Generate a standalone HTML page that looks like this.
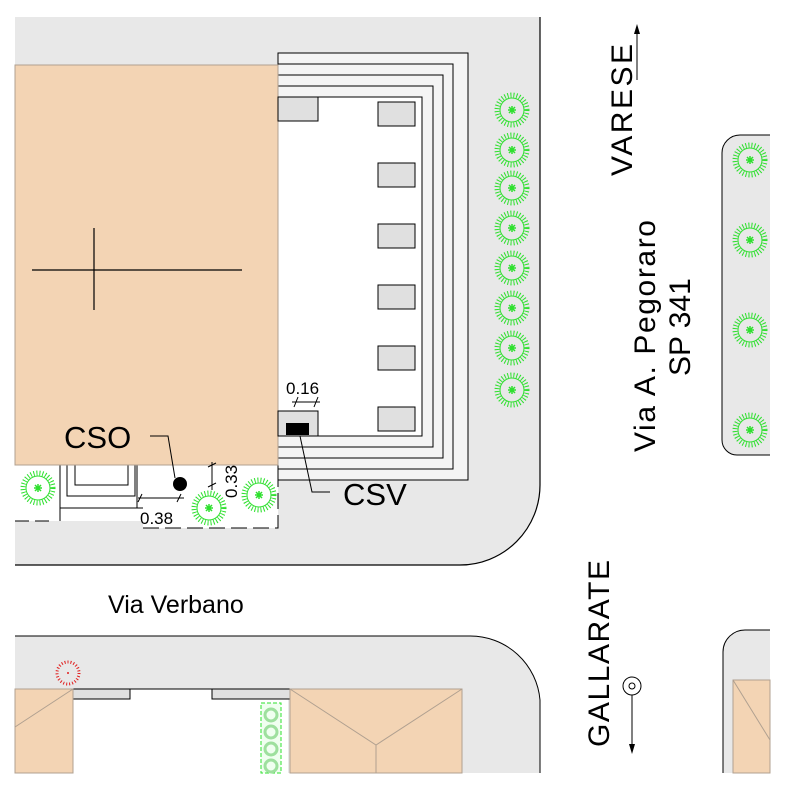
<!DOCTYPE html>
<html><head><meta charset="utf-8"><style>html,body{margin:0;padding:0;background:#fff}svg{display:block}</style></head><body>
<svg width="788" height="788" viewBox="0 0 788 788" xmlns="http://www.w3.org/2000/svg" font-family="Liberation Sans, sans-serif">
<defs>
<g id="tree">
<circle r="15" fill="none" stroke="#2ee02e" stroke-width="5" stroke-dasharray="1 2"/>
<circle r="12" fill="none" stroke="#2ee02e" stroke-width="1"/>
<path d="M-4 0H4M0 -4V4M-3 -3L3 3M3 -3L-3 3" stroke="#2ee02e" stroke-width="1.5"/>
</g>
</defs>
<path d="M15 17 H540 V485 A80 80 0 0 1 460 565 H15 Z" fill="#e8e8e8"/>
<path d="M540 17 V485 A80 80 0 0 1 460 565 H15" fill="none" stroke="#000" stroke-width="1.2"/>
<rect x="15" y="465" width="263" height="56" fill="#fff"/>
<rect x="143" y="465" width="135" height="63" fill="#fff"/>
<rect x="60" y="465" width="83" height="43" fill="#fff"/>
<path d="M15 521 H53" stroke="#000" stroke-dasharray="14 6"/>
<path d="M143 528 H278 V465" fill="none" stroke="#000" stroke-dasharray="16 6"/>
<path d="M60 465 V521 M60 508 H143 M137 465 V508 M67 465 V496 H135 V465 M75 465 V485 H128 V465" fill="none" stroke="#000"/>
<path d="M278 53 H468 V480 H278 Z" fill="#f4f4f4" stroke="#000"/>
<path d="M278 64 H453 V469 H278 M278 75 H443 V458 H278 M278 86 H433 V447 H278" fill="none" stroke="#000"/>
<path d="M278 97 H422 V436 H278 Z" fill="#fff" stroke="#000"/>
<rect x="15" y="65" width="263" height="400" fill="#f3d4b4" stroke="#b0a090" stroke-width="1"/>
<path d="M32 270 H242 M94 228 V310" stroke="#000" stroke-width="1.2"/>
<g fill="#e0e0e0" stroke="#000">
<rect x="278" y="97" width="40" height="24"/>
<rect x="378" y="102" width="37" height="24"/>
<rect x="378" y="163" width="37" height="24"/>
<rect x="378" y="224" width="37" height="24"/>
<rect x="378" y="285" width="37" height="24"/>
<rect x="378" y="346" width="37" height="24"/>
<rect x="378" y="407" width="37" height="24"/>
<rect x="278" y="411" width="40" height="25"/>
</g>
<rect x="286" y="423" width="23" height="12" fill="#000"/>
<use href="#tree" x="512" y="110"/><use href="#tree" x="512" y="150"/><use href="#tree" x="512" y="188"/><use href="#tree" x="512" y="228"/>
<use href="#tree" x="512" y="268"/><use href="#tree" x="512" y="308"/><use href="#tree" x="512" y="348"/><use href="#tree" x="512" y="390"/>
<use href="#tree" x="38" y="488"/><use href="#tree" x="209" y="508"/><use href="#tree" x="259" y="495"/>
<text x="64" y="448" font-size="31">CSO</text>
<path d="M150 436 H168 L175 478" fill="none" stroke="#000"/>
<circle cx="180" cy="484" r="7" fill="#000"/>
<text x="343" y="505" font-size="31">CSV</text>
<path d="M300 436 L312 492 H330" fill="none" stroke="#000"/>
<text x="286" y="394" font-size="17">0.16</text>
<path d="M292 402 H320 M298 397 L294 407 M318 397 L314 407" stroke="#000"/>
<text x="140" y="524" font-size="17">0.38</text>
<path d="M138 498 H184 M142 494 L138 502 M181 494 L177 502" stroke="#000"/>
<text x="0" y="0" font-size="17" transform="translate(237,498) rotate(-90)">0.33</text>
<path d="M212 462 V490 M208 467 L216 463 M208 487 L216 483" stroke="#000"/>
<path d="M770 135 H740 A18 18 0 0 0 722 153 V440 A15 15 0 0 0 737 455 H770 Z" fill="#e8e8e8"/>
<path d="M770 135 H740 A18 18 0 0 0 722 153 V440 A15 15 0 0 0 737 455 H770" fill="none" stroke="#000"/>
<use href="#tree" x="750" y="160"/><use href="#tree" x="750" y="240"/><use href="#tree" x="750" y="330"/><use href="#tree" x="750" y="430"/>
<text x="108" y="613" font-size="25">Via Verbano</text>
<text font-size="30" transform="translate(655,452) rotate(-90)" textLength="232">Via A. Pegoraro</text>
<text font-size="30" transform="translate(690,376) rotate(-90)">SP 341</text>
<text font-size="30" transform="translate(632,176) rotate(-90)" textLength="132">VARESE</text>
<path d="M637 80 V28" stroke="#000"/><path d="M637 24 L634 34 H640 Z" fill="#000"/>
<text font-size="30" transform="translate(609,747) rotate(-90)" textLength="187">GALLARATE</text>
<circle cx="632" cy="686" r="9" fill="none" stroke="#000"/><circle cx="632" cy="686" r="3" fill="none" stroke="#000"/>
<path d="M632 695 V750" stroke="#000"/><path d="M632 754 L629 744 H635 Z" fill="#000"/>
<path d="M15 636 H470 A70 70 0 0 1 540 700 V773 H15 Z" fill="#e8e8e8"/>
<path d="M15 636 H470 A70 70 0 0 1 540 700 V773" fill="none" stroke="#000"/>
<rect x="73" y="689" width="215" height="84" fill="#fff"/>
<path d="M73 689 H290" stroke="#000"/>
<rect x="73" y="689" width="57" height="10" fill="#e0e0e0" stroke="#000"/>
<rect x="212" y="689" width="78" height="10" fill="#e0e0e0" stroke="#000"/>
<rect x="15" y="689" width="58" height="84" fill="#f3d4b4" stroke="#b0a090"/>
<path d="M73 689 L15 727" stroke="#b0a090"/>
<rect x="290" y="689" width="172" height="84" fill="#f3d4b4" stroke="#b0a090"/>
<path d="M290 689 L376 745 L462 689 M376 745 V773" fill="none" stroke="#b0a090"/>
<rect x="261" y="703" width="20" height="70" fill="#f0fff0" stroke="#2ee02e" stroke-dasharray="4 2"/>
<g fill="none" stroke="#9ee09e" stroke-width="3"><circle cx="271" cy="715" r="6"/><circle cx="271" cy="732" r="6"/><circle cx="271" cy="749" r="6"/><circle cx="271" cy="766" r="6"/></g>
<circle cx="68" cy="673" r="11" fill="none" stroke="#e02020" stroke-width="3" stroke-dasharray="1 2"/>
<circle cx="68" cy="673" r="1" fill="#e02020"/>
<path d="M770 630 H745 A22 22 0 0 0 723 652 V773 H770 Z" fill="#e8e8e8"/>
<path d="M770 630 H745 A22 22 0 0 0 723 652 V773" fill="none" stroke="#000"/>
<rect x="733" y="680" width="37" height="93" fill="#f3d4b4" stroke="#b0a090"/>
<path d="M733 680 L770 740" stroke="#b0a090"/>
</svg>
</body></html>
